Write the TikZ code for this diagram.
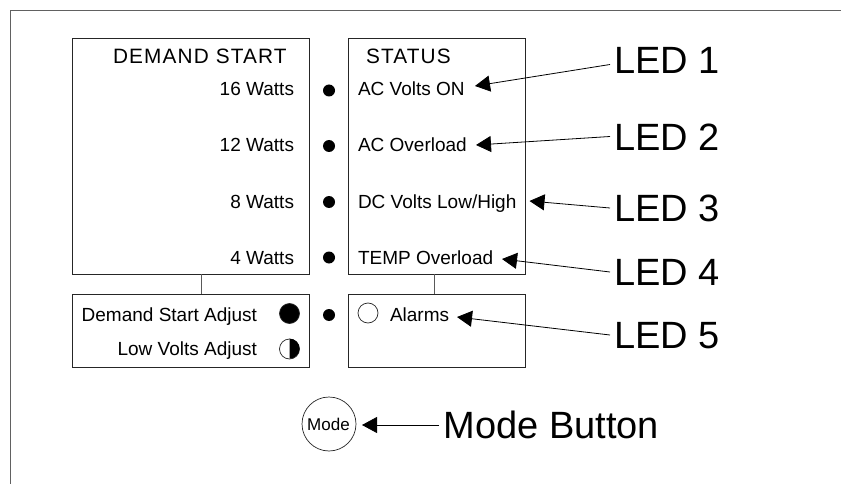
\documentclass[tikz,border=0pt]{standalone}
\usepackage{fontspec}
\setmainfont{Liberation Sans}
\usetikzlibrary{arrows.meta}
\tikzset{
  x=1pt,y=-1pt,
  frameline/.style={draw=black!62,line width=1.2pt},
  panel/.style={draw=black!85,line width=0.9pt,rectangle,inner sep=0pt,outer sep=0pt},
  link/.style={draw=black!65,line width=0.9pt},
  led/.style={circle,fill=black,draw=none,minimum size=12pt,inner sep=0pt},
  knob/.style={circle,draw=black!85,line width=0.7pt,fill=black,minimum size=20pt,inner sep=0pt},
  ring/.style={circle,draw=black!85,line width=0.7pt,fill=white,minimum size=20pt,inner sep=0pt},
  txt/.style={inner sep=0pt,outer sep=0pt,font=\fontsize{19}{21}\selectfont},
  rt/.style={txt,anchor=base east},
  lt/.style={txt,anchor=base west},
  head/.style={inner sep=0pt,outer sep=0pt,anchor=base west,font=\addfontfeatures{LetterSpace=5.5}\fontsize{20.8}{22}\selectfont},
  big/.style={inner sep=0pt,outer sep=0pt,anchor=base west,font=\fontsize{38}{42}\selectfont},
  pointer/.style={draw=black,line width=0.8pt,-{Triangle[length=15pt,width=16pt]}}
}
\begin{document}
\begin{tikzpicture}
\useasboundingbox (0,0) rectangle (841,484);
\draw[frameline] (841,10.5) -- (10.5,10.5) -- (10.5,484);
% panels
\node[panel,minimum width=237pt,minimum height=235.5pt] (demand) at (191,156.25) {};
\node[panel,minimum width=177pt,minimum height=235.5pt] (status) at (437,156.25) {};
\node[panel,minimum width=237pt,minimum height=73pt] (adjust) at (191,330.5) {};
\node[panel,minimum width=177pt,minimum height=73pt] (alarms) at (437,330.5) {};
\draw[link] ([xshift=10pt]demand.south) -- ([xshift=10pt]adjust.north);
\draw[link] ([xshift=-3pt]status.south) -- ([xshift=-3pt]alarms.north);
% left text
\node[head] (tdemand) at (113,63.5) {DEMAND START};
\node[rt] (w16) at (294,96) {16 Watts};
\node[rt] (w12) at (294,152) {12 Watts};
\node[rt] (w8) at (294,208) {8 Watts};
\node[rt] (w4) at (294,264) {4 Watts};
\node[rt] (tdsa) at (257,321) {Demand Start Adjust};
\node[rt] (tlva) at (257,355) {Low Volts Adjust};
% right text
\node[head] (tstatus) at (366,63.5) {STATUS};
\node[lt] (s1) at (358,96) {AC Volts ON};
\node[lt] (s2) at (358,152) {AC Overload};
\node[lt] (s3) at (358,208) {DC Volts Low/High};
\node[lt] (s4) at (358,264) {TEMP Overload};
\node[lt] (s5) at (390,321) {Alarms};
% LEDs
\node[led] (d1) at (329,90.5) {};
\node[led] (d2) at (329,146) {};
\node[led] (d3) at (329,202) {};
\node[led] (d4) at (329,257.5) {};
\node[led] (d5) at (329,315) {};
% knobs
\node[knob] (kdsa) at (289.5,313.5) {};
\node[ring] (klva) at (289.5,349) {};
\fill[black] (klva.north) arc[start angle=90,end angle=-90,radius=10pt] -- cycle;
\node[ring] (kal) at (368,313) {};
% mode button
\node[circle,draw=black!85,line width=0.7pt,minimum size=54pt,inner sep=0pt] (mode) at (329,424) {};
\node[txt,anchor=base,font=\fontsize{17}{18}\selectfont] (tmode) at (328.5,430) {Mode};
% callouts
\node[big] (l1) at (614,74) {LED 1};
\node[big] (l2) at (614,151) {LED 2};
\node[big] (l3) at (614,221) {LED 3};
\node[big] (l4) at (614,285) {LED 4};
\node[big] (l5) at (614,348) {LED 5};
\node[big] (lm) at (443.5,438) {Mode Button};
\coordinate (t1) at (475,86);
\coordinate (t2) at (476,145);
\coordinate (t3) at (529.5,201);
\coordinate (t4) at (502,259);
\coordinate (t5) at (457,317);
\coordinate (tm) at (362,425);
\draw[pointer] ([shift={(-4,-9.5)}]l1.base west) -- (t1);
\draw[pointer] ([shift={(-4,-14.5)}]l2.base west) -- (t2);
\draw[pointer] ([shift={(-4,-13)}]l3.base west) -- (t3);
\draw[pointer] ([shift={(-4,-13)}]l4.base west) -- (t4);
\draw[pointer] ([shift={(-4,-13)}]l5.base west) -- (t5);
\draw[pointer] ([shift={(-4.5,-13)}]lm.base west) -- (tm);
\end{tikzpicture}
\end{document}
